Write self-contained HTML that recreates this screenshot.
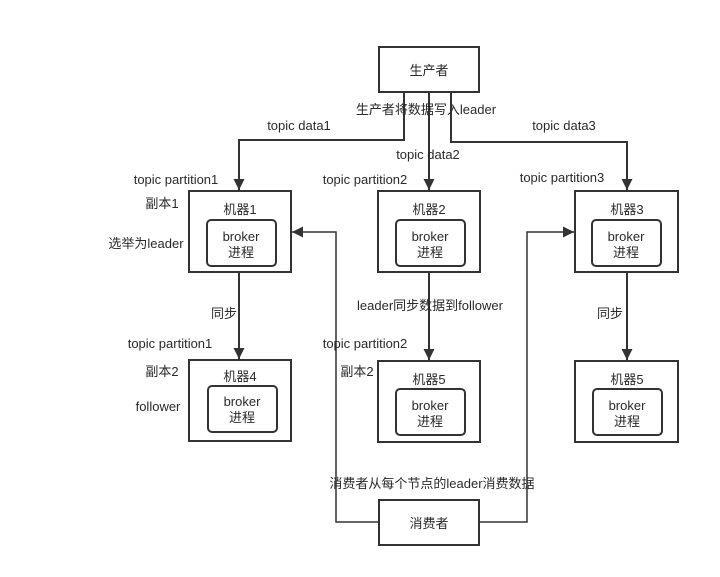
<!DOCTYPE html>
<html><head><meta charset="utf-8"><style>
html,body{margin:0;padding:0;background:#fff;}
svg{display:block;}
text{font-family:"Liberation Sans","Noto Sans CJK SC",sans-serif;font-size:13px;fill:#2a2a2a;}
</style></head><body>
<svg width="720" height="577" viewBox="0 0 720 577" xmlns="http://www.w3.org/2000/svg">
<defs><marker id="a" markerWidth="12" markerHeight="12" refX="11" refY="5.5" orient="auto" markerUnits="userSpaceOnUse"><path d="M0,0 L11,5.5 L0,11 z" fill="#333"/></marker></defs>
<g fill="none" stroke="#333" stroke-width="2">
<rect x="379" y="47" width="100" height="45"/>
<rect x="189" y="191" width="102" height="81"/>
<rect x="378" y="191" width="102" height="81"/>
<rect x="575" y="191" width="103" height="81"/>
<rect x="189" y="360" width="102" height="81"/>
<rect x="378" y="361" width="102" height="81"/>
<rect x="575" y="361" width="103" height="81"/>
<rect x="379" y="500" width="100" height="45"/>
<rect x="207" y="220" width="69" height="46" rx="4"/>
<rect x="396" y="220" width="69" height="46" rx="4"/>
<rect x="592" y="220" width="69" height="46" rx="4"/>
<rect x="208" y="386" width="69" height="46" rx="4"/>
<rect x="396" y="389" width="69" height="46" rx="4"/>
<rect x="593" y="389" width="69" height="46" rx="4"/>
<path d="M404,92 V140 H239 V190" marker-end="url(#a)"/>
<path d="M429,92 V190" marker-end="url(#a)"/>
<path d="M451,92 V142 H627 V190" marker-end="url(#a)"/>
<path d="M239,272 V359" marker-end="url(#a)"/>
<path d="M429,272 V360" marker-end="url(#a)"/>
<path d="M627,272 V360" marker-end="url(#a)"/>
<path d="M379,522 H336 V232 H292" marker-end="url(#a)" stroke-width="1.5"/>
<path d="M479,522 H527 V232 H574" marker-end="url(#a)" stroke-width="1.5"/>
</g>
<g text-anchor="middle">
<text x="429" y="75">生产者</text>
<text x="429" y="528">消费者</text>
<text x="240" y="214">机器1</text><text x="241" y="241">broker</text><text x="241" y="257">进程</text>
<text x="429" y="214">机器2</text><text x="430" y="241">broker</text><text x="430" y="257">进程</text>
<text x="627" y="214">机器3</text><text x="626" y="241">broker</text><text x="626" y="257">进程</text>
<text x="240" y="381">机器4</text><text x="242" y="406">broker</text><text x="242" y="422">进程</text>
<text x="429" y="384">机器5</text><text x="430" y="410">broker</text><text x="430" y="426">进程</text>
<text x="627" y="384">机器5</text><text x="627" y="410">broker</text><text x="627" y="426">进程</text>
<text x="426" y="114">生产者将数据写入leader</text>
<text x="299" y="130">topic data1</text>
<text x="428" y="159">topic data2</text>
<text x="564" y="130">topic data3</text>
<text x="176" y="184">topic partition1</text>
<text x="365" y="184">topic partition2</text>
<text x="562" y="182">topic partition3</text>
<text x="162" y="208">副本1</text>
<text x="146" y="248">选举为leader</text>
<text x="224" y="318">同步</text>
<text x="610" y="318">同步</text>
<text x="430" y="310">leader同步数据到follower</text>
<text x="170" y="348">topic partition1</text>
<text x="365" y="348">topic partition2</text>
<text x="162" y="376">副本2</text>
<text x="357" y="376">副本2</text>
<text x="158" y="411">follower</text>
<text x="432" y="488">消费者从每个节点的leader消费数据</text>
</g>
</svg>
</body></html>
